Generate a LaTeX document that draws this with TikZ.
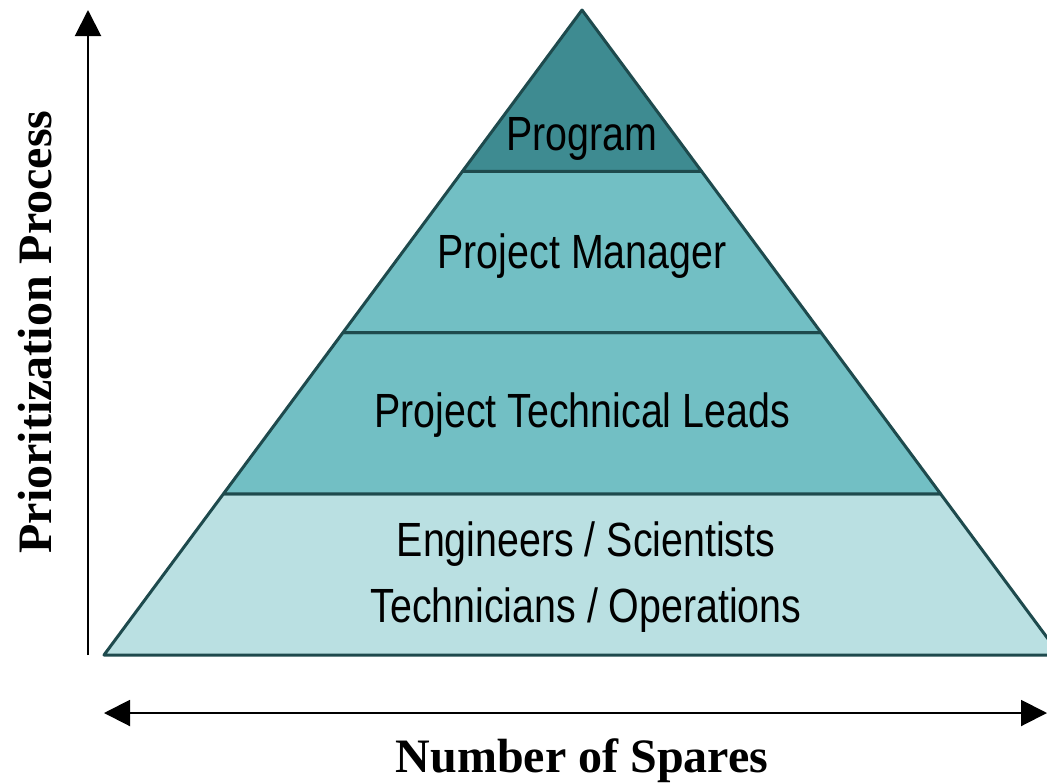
\documentclass[tikz,border=0pt]{standalone}
\usepackage{fontspec}
\setmainfont{Liberation Serif}
\newfontfamily\narrowsans[FakeStretch=0.82]{Liberation Sans}
\usetikzlibrary{arrows.meta, calc}
\tikzset{>={Triangle[width=26pt,length=26pt]}}
\definecolor{tealdark}{HTML}{3E8B91}
\definecolor{tealmid}{HTML}{72BFC4}
\definecolor{teallight}{HTML}{BAE0E2}
\definecolor{tealedge}{HTML}{1E4A4D}
\tikzset{layer/.style = {draw = tealedge, line width = 3pt, line join = round},
         lbl/.style = {font = \fontsize{48}{66}\selectfont\narrowsans, align = center, inner sep = 0pt},
         axislbl/.style = {font = \fontsize{48}{56}\selectfont\bfseries, inner sep = 0pt}}

\begin{document}
\begin{tikzpicture}[x = 1pt, y = -1pt]
\useasboundingbox (0,0) rectangle (1047,782);
\clip (0,0) rectangle (1047,782);

\coordinate (apex) at (582,10);
\coordinate (base_l) at (104,655);
\coordinate (base_r) at (1060,655);

% corners of the layers
\coordinate (l1) at ($(apex)!0.25!(base_l)$);
\coordinate (r1) at ($(apex)!0.25!(base_r)$);
\coordinate (l2) at ($(apex)!0.5!(base_l)$);
\coordinate (r2) at ($(apex)!0.5!(base_r)$);
\coordinate (l3) at ($(apex)!0.75!(base_l)$);
\coordinate (r3) at ($(apex)!0.75!(base_r)$);

\filldraw[layer, fill = teallight] (l3) -- (r3) -- (base_r) -- (base_l) -- cycle;
\filldraw[layer, fill = tealmid] (l2) -- (r2) -- (r3) -- (l3) -- cycle;
\filldraw[layer, fill = tealmid] (l1) -- (r1) -- (r2) -- (l2) -- cycle;
\filldraw[layer, fill = tealdark] (apex) -- (r1) -- (l1) -- cycle;

\node (program) [lbl] at (582,139) {Program};
\node (manager) [lbl] at (582,256) {Project Manager};
\node (leads) [lbl] at (582,415) {Project Technical Leads};
\node (staff) [lbl] at (586,577) {Engineers / Scientists\\Technicians / Operations};

% axes
\coordinate (v_from) at (88,655);
\coordinate (v_to) at (88,10);
\draw[->, line width = 2pt] (v_from) -- (v_to);

\coordinate (h_left) at (104,713);
\coordinate (h_right) at (1047,713);
\draw[<->, line width = 2pt] (h_left) -- (h_right);

\node (spares) [axislbl] at (582,761) {Number of Spares};
\node (process) [axislbl, rotate = 90] at (35,332) {Prioritization Process};

\end{tikzpicture}
\end{document}
